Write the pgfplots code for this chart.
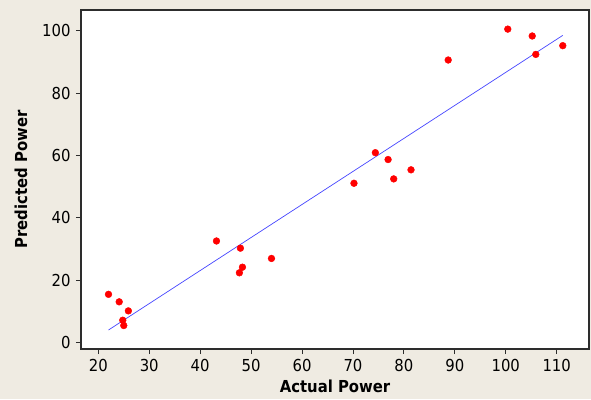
\documentclass[border=0pt]{standalone}
\usepackage{fontspec}
\setmainfont{DejaVu Sans Condensed}
\usepackage{pgfplots}
\pgfplotsset{compat=1.18}
\definecolor{bgbeige}{RGB}{239,235,226}
\definecolor{fitblue}{RGB}{70,70,255}
\definecolor{axgray}{RGB}{45,45,45}
\begin{document}
\begin{tikzpicture}
\fill[bgbeige] (-81pt,-50pt) rectangle (510pt,349pt);
\begin{axis}[
  scale only axis,
  width=508pt, height=339pt,
  at={(0,0)}, anchor=south west,
  xmin=16.6, xmax=116.35,
  ymin=-2.02, ymax=106.63,
  axis background/.style={fill=white},
  axis line style={axgray, line width=1.1pt},
  xtick={20,30,...,110},
  ytick={0,20,...,100},
  xtick pos=bottom, ytick pos=left,
  tick align=outside,
  major tick length=5pt,
  tick style={axgray, line width=0.8pt},
  /pgf/number format/assume math mode=true,
  ticklabel style={font=\fontsize{16.5}{18}\selectfont},
  xticklabel style={yshift=-2pt},
  yticklabel style={xshift=-2pt},
  xlabel={Actual Power},
  ylabel={Predicted Power},
  label style={font=\fontsize{16.5}{18}\selectfont\bfseries},
  xlabel style={at={(axis description cs:0.5,-0.1289)},anchor=base},
  ylabel style={at={(axis description cs:-0.1063,0.5)},anchor=base},
  clip=false,
]
\addplot[fitblue, line width=0.7pt] coordinates {(22.0,4.07) (111.2,98.5)};
\addplot[only marks, mark=*, mark size=3.4pt, color=red, mark options={fill=red, draw=red}] coordinates {
(22.0,15.5) (24.1,13.1) (25.9,10.2) (24.8,7.2) (25.0,5.5)
(43.2,32.6) (47.9,30.3) (48.3,24.2) (47.7,22.4) (54.0,27.0)
(70.2,51.1) (74.4,60.9) (76.9,58.7) (78.0,52.5) (81.4,55.4)
(88.7,90.6) (100.4,100.5) (105.2,98.3) (105.9,92.4) (111.2,95.2)
};
\end{axis}
\pgfresetboundingbox
\path[use as bounding box] (-81pt,-50pt) rectangle (510pt,349pt);
\end{tikzpicture}
\end{document}
